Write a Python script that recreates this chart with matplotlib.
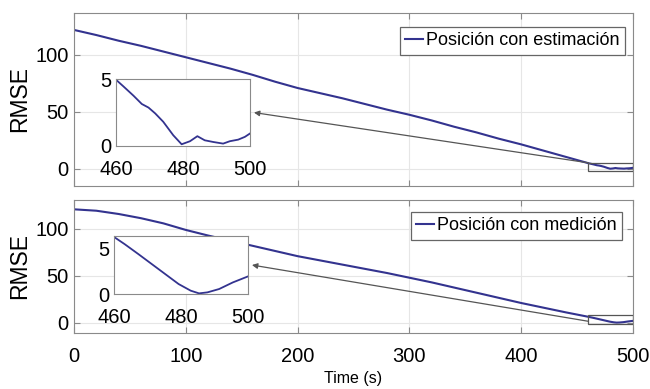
import matplotlib
matplotlib.use("Agg")
import matplotlib.pyplot as plt
from matplotlib.patches import Rectangle

plt.rcParams['font.family'] = ['Liberation Sans', 'DejaVu Sans']

# data
t_est = [0, 20, 40, 60, 80, 100, 120, 140, 160, 180, 200, 220, 240, 260, 280, 300,
         320, 340, 360, 380, 400, 420, 440, 460, 462.2, 465.2, 467.7, 469.7, 471.7,
         474.1, 477.1, 479.6, 482.1, 484.3, 486.5, 489.1, 492, 494, 496.5, 498.5, 500]
rmse_est = [122, 117.5, 112.5, 108, 103, 98, 93, 88, 82.5, 76.5, 71, 66.5, 62, 57, 52, 47.5,
            42.5, 37, 32, 26.5, 21.5, 16, 10.5, 5.0, 4.5, 3.8, 3.17, 2.9, 2.46,
            1.83, 0.81, 0.13, 0.36, 0.74, 0.43, 0.30, 0.18, 0.36, 0.48, 0.69, 0.94]

t_med = [0, 20, 40, 60, 80, 100, 120, 140, 160, 180, 200, 220, 240, 260, 280, 300,
         320, 340, 360, 380, 400, 420, 440, 460, 463.2, 467.3, 471.3, 475.3, 479.3,
         482.9, 485.4, 487.9, 491.4, 495.5, 500]
rmse_med = [121, 119.5, 116, 111.5, 106, 99, 93, 87.5, 82, 76.5, 71, 66.5, 62, 57.5, 53, 48,
            43, 37.5, 32, 26.5, 21, 16, 11, 6.3, 5.5, 4.4, 3.3, 2.2, 1.1,
            0.37, 0.07, 0.18, 0.55, 1.28, 1.94]

labels = ["Posición con estimación", "Posición con medición"]
xticks = [0, 100, 200, 300, 400, 500]
yticks = [0, 50, 100]
inset_xticks = [460, 480, 500]
inset_yticks = [0, 5]

line_color = '#33338f'
spine_color = '#8a8a8a'

fig = plt.figure(figsize=(6.5, 3.89), dpi=100)

ax1 = fig.add_axes([0.1138, 0.522, 0.860, 0.445])
ax2 = fig.add_axes([0.1138, 0.144, 0.860, 0.342])
ins1 = fig.add_axes([0.1785, 0.6247, 0.206, 0.172])
ins2 = fig.add_axes([0.1754, 0.2442, 0.206, 0.149])

panels = [
    (ax1, ins1, t_est, rmse_est, labels[0], (-15, 137), (0, 5.05), (-1.75, 5.3), (460, 5.3),
     (0.9857, 0.919)),
    (ax2, ins2, t_med, rmse_med, labels[1], (-11, 131), (0, 6.4), (-1.8, 7.8), (460, 1.5),
     (0.980, 0.91)),
]

for ax, ins, t, r, lab, ylim, iylim, rect_y, arrow_from, leg_pos in panels:
    ax.plot(t, r, color=line_color, lw=1.5, label=lab)
    ax.set_xlim(0, 500)
    ax.set_ylim(*ylim)
    ax.set_xticks(xticks)
    ax.set_yticks(yticks)
    ax.grid(True, color='#e6e6e6', lw=0.8)
    ax.set_axisbelow(True)
    ax.tick_params(direction='in', length=4, color=spine_color, labelsize=14.5,
                   top=True, right=True)
    ax.tick_params(axis='x', pad=10)
    ax.tick_params(axis='y', pad=4)
    for s in ax.spines.values():
        s.set_color(spine_color)
    ax.set_ylabel("RMSE", fontsize=16.5, labelpad=3)
    leg = ax.legend(loc='upper right', bbox_to_anchor=leg_pos, borderaxespad=0,
                    fontsize=13, handlelength=1.0, handletextpad=0.15,
                    borderpad=0.3, fancybox=False, framealpha=1)
    leg.get_frame().set_edgecolor('#666666')
    leg.get_frame().set_linewidth(0.9)

    # zoom box on the main axes
    ax.add_patch(Rectangle((460, rect_y[0]), 40, rect_y[1] - rect_y[0], fill=False,
                           edgecolor='#555555', lw=0.9, zorder=3))

    # inset
    ins.plot(t, r, color=line_color, lw=1.3)
    ins.set_xlim(460, 500)
    ins.set_ylim(*iylim)
    ins.set_xticks(inset_xticks)
    ins.set_yticks(inset_yticks)
    ins.tick_params(length=0, labelsize=14.5)
    ins.tick_params(axis='x', pad=10)
    ins.tick_params(axis='y', pad=3)
    for s in ins.spines.values():
        s.set_color(spine_color)

    ax.annotate('', xy=(1.03, 0.5), xycoords=ins, xytext=arrow_from, textcoords='data',
                arrowprops=dict(arrowstyle='-|>', color='#555555', lw=0.9,
                                mutation_scale=8, shrinkA=0, shrinkB=0))

ax1.tick_params(labelbottom=False)
ax2.set_xlabel("Time (s)", fontsize=11.5, labelpad=4)

fig.savefig("out.png", dpi=100)
